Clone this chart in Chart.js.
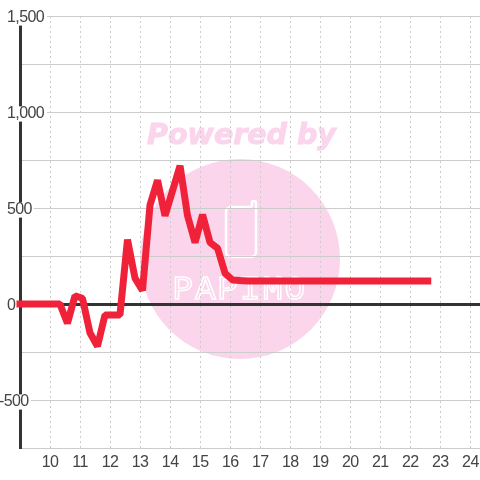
<!DOCTYPE html>
<html>
<head>
<meta charset="utf-8">
<script src="https://cdn.jsdelivr.net/npm/chart.js@4"></script>
<style>
  html, body { margin: 0; padding: 0; background: #fff; }
  #wrap { width: 480px; height: 480px; }
</style>
</head>
<body>
<div id="wrap"><canvas id="chart" width="480" height="480"></canvas></div>
<script>
// hours of the day, quarter hour steps
const hours = [9, 9.08, 9.33, 9.58, 9.83, 10.08, 10.33, 10.58, 10.83, 11.08, 11.33, 11.58, 11.83,
  12.08, 12.33, 12.58, 12.83, 13.08, 13.33, 13.58, 13.83, 14.08, 14.33, 14.58, 14.83,
  15.08, 15.33, 15.58, 15.83, 16.08, 16.33, 16.58, 16.83, 17.08, 22.58];
const values = [0, 0, 0, 0, 0, 0, 0, -100, 42, 30, -150, -220, -57,
  -57, -57, 335, 135, 70, 515, 645, 460, 590, 720, 460, 320,
  465, 320, 290, 160, 125, 122, 120, 120, 120, 120];
const yTickLabels = { '1500': '1,500', '1000': '1,000', '500': '500', '0': '0', '-500': '-500' };

const watermarkPink = '#fbd5ec';

// watermark sits behind the grid
const watermark = {
  id: 'watermark',
  beforeDraw(chart) {
    const c = chart.ctx;
    c.save();
    c.fillStyle = watermarkPink;
    c.beginPath();
    c.arc(240, 259, 100, 0, Math.PI * 2);
    c.fill();

    c.letterSpacing = '0px';
    c.font = 'italic bold 28.5px "DejaVu Sans"';
    c.textAlign = 'center';
    c.textBaseline = 'middle';
    c.strokeStyle = watermarkPink;
    c.lineWidth = 1;
    c.fillText('Powered by', 241.5, 137);
    c.strokeText('Powered by', 241.5, 137);

    // phone outline
    c.strokeStyle = '#fff';
    c.lineWidth = 2.5;
    c.beginPath();
    c.moveTo(252, 207);
    c.lineTo(232, 207);
    c.arcTo(226, 207, 226, 213, 5);
    c.lineTo(226, 251);
    c.arcTo(226, 257, 232, 257, 5);
    c.lineTo(250, 257);
    c.arcTo(256, 257, 256, 251, 5);
    c.lineTo(256, 203);
    c.arc(254, 203, 2, 0, Math.PI, true);
    c.lineTo(252, 207);
    c.stroke();

    c.font = '34px "Liberation Mono"';
    c.letterSpacing = '2px';
    c.lineWidth = 1.5;
    c.strokeText('PAPIMO', 240, 290);
    c.restore();

    // tick labels are set a little tighter
    c.letterSpacing = '-0.6px';
  }
};

new Chart(document.getElementById('chart').getContext('2d'), {
  type: 'line',
  data: {
    datasets: [{
      data: hours.map((h, i) => ({ x: h, y: values[i] })),
      borderColor: '#f0223a',
      borderWidth: 7,
      borderCapStyle: 'square',
      borderJoinStyle: 'bevel',
      pointRadius: 0,
      tension: 0,
      clip: false
    }]
  },
  plugins: [watermark],
  options: {
    responsive: false,
    animation: false,
    layout: { padding: { left: 20, top: 16, right: 0, bottom: 0 } },
    plugins: { legend: { display: false }, tooltip: { enabled: false } },
    scales: {
      x: {
        type: 'linear',
        min: 9,
        max: 24.32,
        afterFit(scale) {
          scale.height = 32;
          scale.paddingLeft = 0;
          scale.paddingRight = 0;
        },
        grid: { color: '#cccccc', lineWidth: 1, drawTicks: false },
        border: { color: '#cccccc', width: 1, dash: [2, 3] },
        ticks: {
          stepSize: 1,
          includeBounds: false,
          autoSkip: false,
          maxRotation: 0,
          padding: 5,
          color: '#444',
          font: { family: '"Liberation Sans"', size: 16 },
          callback: v => (v === 9 ? null : String(v))
        }
      },
      y: {
        min: -750,
        max: 1500,
        afterFit(scale) { scale.width = 0; },
        afterUpdate(scale) {
          // nudge the labels: 1px down, minus sign hangs to the left
          const compute = scale._computeLabelItems;
          scale._computeLabelItems = function (area) {
            return compute.call(this, area).map(item => {
              const dx = String(item.label).startsWith('-') ? -4 : 0;
              item.options.translation = [item.options.translation[0] + dx, item.options.translation[1] + 1];
              return item;
            });
          };
          scale._labelItems = null;
        },
        grid: {
          color: c => (c.tick.value === 0 ? '#333333' : '#cccccc'),
          lineWidth: c => (c.tick.value === 0 ? 3 : 1),
          drawTicks: false
        },
        border: { color: '#333333', width: 3 },
        ticks: {
          stepSize: 250,
          autoSkip: false,
          mirror: true,
          padding: -13,
          color: '#444',
          font: { family: '"Liberation Sans"', size: 16 },
          showLabelBackdrop: c => c.tick.value % 500 === 0,
          backdropColor: '#fff',
          backdropPadding: { top: -2, bottom: -2, left: 0, right: 0 },
          callback: v => yTickLabels[String(v)] ?? ''
        }
      }
    }
  }
});
</script>
</body>
</html>
